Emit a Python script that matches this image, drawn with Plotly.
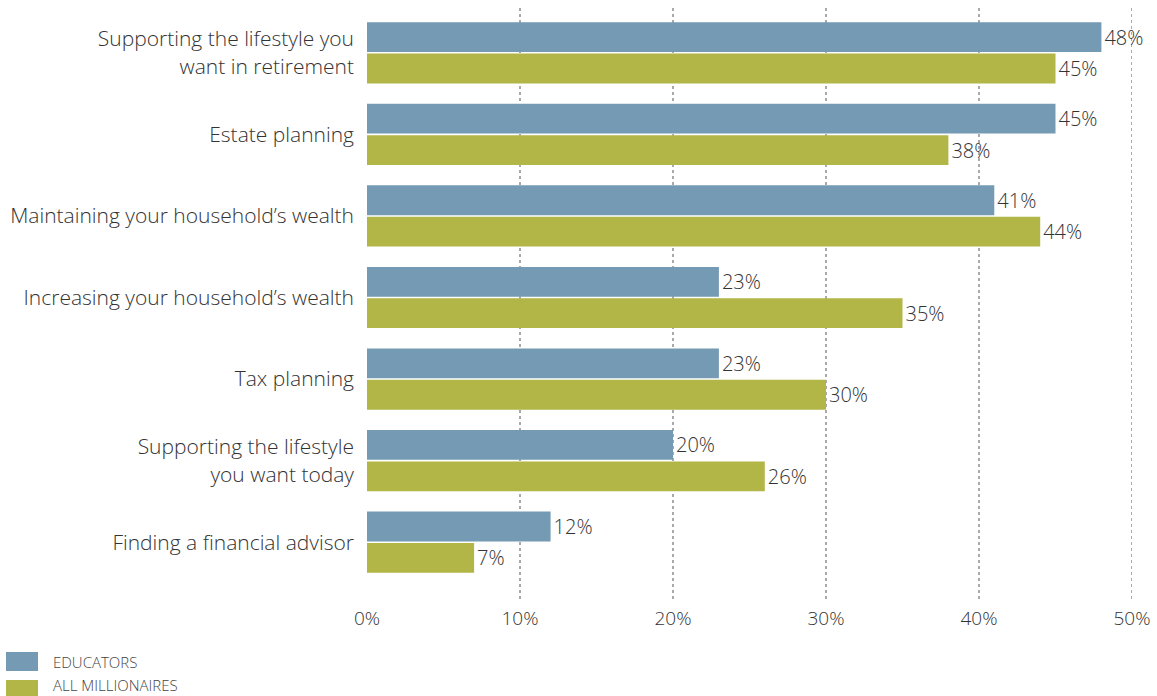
import plotly.graph_objects as go

categories = [
    "Supporting the lifestyle you<br>want in retirement",
    "Estate planning",
    "Maintaining your household\u2019s wealth",
    "Increasing your household\u2019s wealth",
    "Tax planning",
    "Supporting the lifestyle<br>you want today",
    "Finding a financial advisor",
]
educators = [48, 45, 41, 23, 23, 20, 12]
all_millionaires = [45, 38, 44, 35, 30, 26, 7]
series_names = ["EDUCATORS", "ALL MILLIONAIRES"]
tick_values = [0, 10, 20, 30, 40, 50]
tick_labels = ["0%", "10%", "20%", "30%", "40%", "50%"]

BLUE = "#759ab3"
OLIVE = "#b1b646"
FONT = "'Open Sans', Lato, sans-serif"

W, H = 1157, 696
ML, MR, MT, MB = 367, 25, 12, 113
plot_w = W - ML - MR
plot_h = H - MT - MB


def px_x(p):
    return (p - ML) / plot_w


def px_y(p):
    return (H - MB - p) / plot_h


fig = go.Figure()
for name, vals, color in [(series_names[0], educators, BLUE),
                          (series_names[1], all_millionaires, OLIVE)]:
    fig.add_trace(go.Bar(
        y=categories, x=vals, orientation="h", name=name,
        marker=dict(color=color, line=dict(width=0)),
        text=[f"{v}%" for v in vals], textposition="outside",
        textfont=dict(family=FONT, size=20, color="#333333", weight=300),
        cliponaxis=False, showlegend=False,
    ))

# dotted vertical guides at each tick beyond zero
shapes = []
for v in tick_values[1:]:
    shapes.append(dict(type="line", xref="x", yref="paper", x0=v, x1=v,
                       y0=px_y(599), y1=px_y(5), layer="below",
                       line=dict(color="#555555", width=1, dash="dot")))

# legend swatches and labels
annotations = []
for i, (name, color) in enumerate(zip(series_names, [BLUE, OLIVE])):
    top = 652 + i * 28
    shapes.append(dict(type="rect", xref="paper", yref="paper",
                       x0=px_x(6), x1=px_x(38), y0=px_y(top + 19), y1=px_y(top),
                       fillcolor=color, line=dict(width=0)))
    annotations.append(dict(xref="paper", yref="paper", x=px_x(51), y=px_y(662 + i * 23),
                            text=name, showarrow=False, xanchor="left", yanchor="middle",
                            font=dict(family=FONT, size=15, color="#444444", weight=300)))

fig.update_layout(
    width=W, height=H,
    margin=dict(l=ML, r=MR, t=MT, b=MB, autoexpand=False),
    paper_bgcolor="white", plot_bgcolor="white",
    barmode="group", bargap=0.23, bargroupgap=0.05,
    font=dict(family=FONT, color="#333333"),
    shapes=shapes, annotations=annotations,
    xaxis=dict(range=[0, 50], tickvals=tick_values, ticktext=tick_labels,
               showgrid=False, zeroline=False, showline=False, automargin=False,
               tickfont=dict(family=FONT, size=19, color="#333333", weight=300),
               ticks="", ticklabelstandoff=22, fixedrange=True),
    yaxis=dict(autorange="reversed", showgrid=False, zeroline=False, showline=False,
               automargin=False,
               tickfont=dict(family=FONT, size=21, color="#333333", weight=300),
               ticks="", ticklabelstandoff=12, fixedrange=True),
)

fig.write_html("out.html")
